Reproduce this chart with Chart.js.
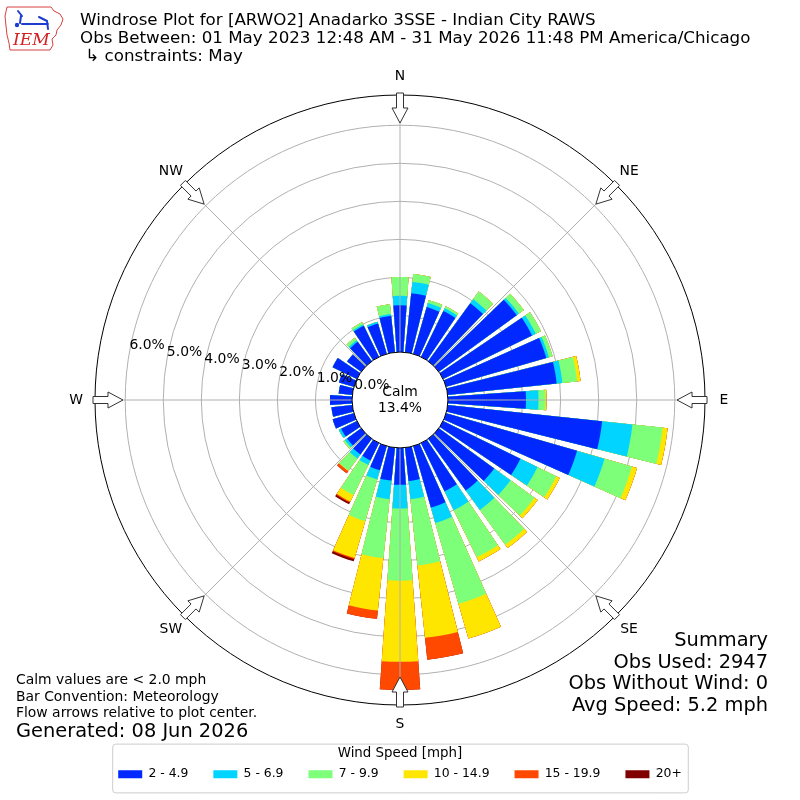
<!DOCTYPE html>
<html lang="en">
<head>
<meta charset="utf-8">
<title>Windrose ARWO2</title>
<script src="https://cdn.jsdelivr.net/npm/chart.js@4.4.1/dist/chart.umd.min.js"></script>
<style>
  html, body { margin: 0; padding: 0; background: #fff; }
  #page { position: relative; width: 800px; height: 800px; font-family: "DejaVu Sans", sans-serif; color: #000; overflow: hidden; }
  #plot { position: absolute; left: 0; top: 0; width: 800px; height: 800px; }
  .t { position: absolute; white-space: pre; }
  #title { left: 80px; top: 11px; font-size: 16.7px; line-height: 17.8px; }
  #notes { left: 16px; top: 671px; font-size: 13.9px; line-height: 16.7px; }
  #generated { left: 16px; top: 720px; font-size: 19.4px; line-height: 21.5px; }
  #summary { right: 32px; top: 629px; font-size: 19.4px; line-height: 21.5px; text-align: right; }
  #logo { position: absolute; left: 4px; top: 4px; }
</style>
</head>
<body>
<div id="page">
  <div id="plot"><canvas id="rose"></canvas></div>
  <svg id="logo" width="62" height="48" viewBox="0 0 62 48">
    <path d="M3 3 H47 L50 7 L56 10 L59 15 L57 21 L53 26 L52 31 L48 35 L49 41 L46 46 H6 L5 39 L3 31 L2 22 L1 12 Z" fill="none" stroke="#d94040" stroke-width="1"/>
    <g stroke="#1e3ccd" stroke-width="2" fill="none" stroke-linecap="round">
      <path d="M14 7 L18 12 M17 12 L16 19 M18 20 L44 20 M35 13 L43 17 M43 17 L44 25"/>
    </g>
    <circle cx="13" cy="21" r="2.2" fill="#1e3ccd"/>
    <text x="9" y="41" font-family="DejaVu Serif" font-style="italic" font-size="17" fill="#d42020">IEM</text>
  </svg>
  <div class="t" id="title">Windrose Plot for [ARWO2] Anadarko 3SSE - Indian City RAWS
Obs Between: 01 May 2023 12:48 AM - 31 May 2026 11:48 PM America/Chicago
 ↳ constraints: May</div>
  <div class="t" id="notes">Calm values are &lt; 2.0 mph
Bar Convention: Meteorology
Flow arrows relative to plot center.</div>
  <div class="t" id="generated">Generated: 08 Jun 2026</div>
  <div class="t" id="summary">Summary
Obs Used: 2947
Obs Without Wind: 0
Avg Speed: 5.2 mph</div>
</div>
<script>
// direction each bar comes from (deg, meteorological)
const directions = [0,10,20,30,40,50,60,70,80,90,100,110,120,130,140,150,160,170,
                    180,190,200,210,220,230,240,250,260,270,280,290,300,310,320,330,340,350];
const speedBins = ['2 - 4.9','5 - 6.9','7 - 9.9','10 - 14.9','15 - 19.9','20+'];

// percent of observations per speed bin and direction
const pct2to5   = [1.27,1.60,1.32,1.38,1.92,2.57,2.64,2.78,2.92,2.09,4.12,3.62,2.30,1.84,1.72,1.45,1.72,0.92,
                   1.01,0.91,0.70,0.55,0.55,0.50,0.50,0.62,0.59,0.62,0.40,0.45,0.75,0.50,0.67,0.95,0.87,1.00];
const pct5to7   = [0.25,0.30,0.11,0.08,0.13,0.07,0.11,0.07,0.15,0.33,0.80,0.75,0.50,0.53,0.63,0.55,0.42,0.48,
                   0.62,0.49,0.25,0.13,0.13,0.07,0.07,0,0,0,0,0,0,0,0.05,0.04,0.05,0.05];
const pct7to10  = [0.49,0.21,0.08,0.06,0.25,0.16,0.15,0.10,0.39,0.18,0.80,0.75,0.55,0.78,1.13,1.38,2.21,1.75,
                   1.90,1.56,1.14,0.88,0.40,0.05,0,0,0,0,0,0,0,0,0.08,0.06,0,0.26];
const pct10to15 = [0,0,0,0,0,0,0,0,0.09,0.03,0.13,0.14,0.10,0.10,0.11,0.12,0.95,1.91,
                   2.13,1.38,1.01,0.19,0.01,0,0,0,0,0,0,0,0,0,0,0,0,0];
const pct15to20 = [0,0,0,0,0,0,0,0,0,0,0,0,0,0,0,0,0,0.58,
                   0.74,0.22,0.03,0.03,0.07,0,0,0,0,0,0,0,0,0,0,0,0,0];
const pct20up   = [0,0,0,0,0,0,0,0,0,0,0,0,0,0,0,0,0,0,
                   0,0,0.06,0.05,0,0,0,0,0,0,0,0,0,0,0,0,0,0];
const calmPct = 13.4;

const ringValues = [1,2,3,4,5,6];
const tickValues = [0,1,2,3,4,5,6];
const tickLabels = ['0.0%','1.0%','2.0%','3.0%','4.0%','5.0%','6.0%'];
const compassBearings = [0,45,90,135,180,225,270,315];
const compassLabels = ['N','NE','E','SE','S','SW','W','NW'];

const binColors = ['#0028ff','#00d4ff','#7dff7a','#ffe600','#ff4800','#800000'];
const axisMin = -1.22, axisMax = 6.794;   // 0% sits on the calm circle
const barAngle = 8, gapAngle = 2;

Chart.defaults.font.family = '"DejaVu Sans", sans-serif';

// stack the bins: each dataset holds the running total, drawn largest first
const binSeries = [pct2to5, pct5to7, pct7to10, pct10to15, pct15to20, pct20up];
let running = directions.map(() => 0);
const cumulative = binSeries.map(s => (running = running.map((v, i) => v + s[i])));

const interleave = vals => vals.flatMap(v => [v, 0]);   // bar, then empty gap
const labels = directions.flatMap(d => [d + '°', '']);

const datasets = speedBins.map((name, k) => ({
  label: name,
  data: interleave(cumulative[k]),
  backgroundColor: c => c.dataIndex % 2 ? 'rgba(0,0,0,0)' : binColors[k],
  borderWidth: 0,
  angle: c => c.dataIndex % 2 ? gapAngle : barAngle,
  clip: false
}));

const roseDecor = {
  id: 'roseDecor',
  afterDraw(chart) {
    const ctx = chart.ctx, s = chart.scales.r;
    const cx = s.xCenter, cy = s.yCenter, rOuter = s.drawingArea;
    const rCalm = s.getDistanceFromCenterForValue(0) + 1.5;
    const at = (deg, r, side = 0) => {
      const a = deg * Math.PI / 180;
      return [cx + r * Math.sin(a) + side * Math.cos(a), cy - r * Math.cos(a) + side * Math.sin(a)];
    };
    ctx.save();
    ctx.lineWidth = 1;
    ctx.strokeStyle = '#b0b0b0';
    compassBearings.forEach(b => {
      ctx.beginPath(); ctx.moveTo(...at(b, rCalm)); ctx.lineTo(...at(b, rOuter)); ctx.stroke();
    });
    ctx.strokeStyle = '#000';
    ctx.beginPath(); ctx.arc(cx, cy, rOuter, 0, 2 * Math.PI); ctx.stroke();
    ctx.fillStyle = '#fff';
    ctx.beginPath(); ctx.arc(cx, cy, rCalm, 0, 2 * Math.PI); ctx.fill(); ctx.stroke();

    ctx.fillStyle = '#000';
    ctx.font = '13.9px "DejaVu Sans"';
    ctx.textAlign = 'center'; ctx.textBaseline = 'middle';
    ctx.fillText('Calm', cx, cy - 8);
    ctx.fillText(calmPct.toFixed(1) + '%', cx, cy + 8);

    ctx.textAlign = 'left'; ctx.textBaseline = 'alphabetic';
    tickValues.forEach((v, i) => {
      const [x, y] = at(280, s.getDistanceFromCenterForValue(v));
      ctx.fillText(tickLabels[i], x, y - 3);
    });

    ctx.textAlign = 'center'; ctx.textBaseline = 'middle';
    compassBearings.forEach((b, i) => {
      const [x, y] = at(b, rOuter + 19);
      ctx.fillText(compassLabels[i], x, y);
    });

    // hollow arrows pointing at the centre
    const shape = [[2,-3.5],[-13,-3.5],[-13,-8],[-28,0],[-13,8],[-13,3.5],[2,3.5]];
    ctx.fillStyle = '#fff'; ctx.strokeStyle = '#333';
    compassBearings.forEach(b => {
      ctx.beginPath();
      shape.forEach(([du, dv], k) => {
        const [x, y] = at(b, rOuter + du, dv);
        k ? ctx.lineTo(x, y) : ctx.moveTo(x, y);
      });
      ctx.closePath(); ctx.fill(); ctx.stroke();
    });

    // legend frame
    const lg = chart.legend, hb = lg.legendHitBoxes;
    if (hb && hb.length) {
      const x0 = Math.min(...hb.map(h => h.left)) - 6;
      const x1 = Math.max(...hb.map(h => h.left + h.width)) + 6;
      const y0 = lg.top + 6;
      const y1 = Math.max(...hb.map(h => h.top + h.height)) + 12;
      ctx.strokeStyle = '#cccccc';
      ctx.beginPath(); ctx.roundRect(x0 + 0.5, y0 + 0.5, x1 - x0, y1 - y0, 3); ctx.stroke();
    }
    ctx.restore();
  }
};

new Chart(document.getElementById('rose').getContext('2d'), {
  type: 'polarArea',
  data: { labels, datasets },
  options: {
    responsive: true,
    maintainAspectRatio: false,
    animation: false,
    layout: { padding: { top: 0, left: 0, right: 0, bottom: 9.6 } },
    scales: {
      r: {
        min: axisMin, max: axisMax,
        startAngle: -barAngle / 2,
        z: 1,
        ticks: { display: false },
        afterBuildTicks: sc => { sc.ticks = ringValues.map(v => ({ value: v })); },
        grid: { color: '#b0b0b0', lineWidth: 1, circular: true },
        angleLines: { display: false },
        pointLabels: { display: false },
        afterFit: sc => { sc.xCenter = 400; sc.yCenter = 400; sc.drawingArea = 305; }
      }
    },
    plugins: {
      tooltip: { enabled: false },
      legend: {
        position: 'bottom',
        title: { display: true, text: 'Wind Speed [mph]', color: '#000', font: { size: 13.4 }, padding: { top: 9, bottom: -19.7 } },
        labels: {
          color: '#000', font: { size: 12.4 },
          boxWidth: 24, boxHeight: 8, padding: 25,
          generateLabels: chart => chart.data.datasets.map((ds, i) => ({
            text: ds.label, fillStyle: binColors[i], strokeStyle: binColors[i],
            lineWidth: 0, hidden: false, datasetIndex: i
          }))
        }
      }
    }
  },
  plugins: [roseDecor]
});
</script>
</body>
</html>
